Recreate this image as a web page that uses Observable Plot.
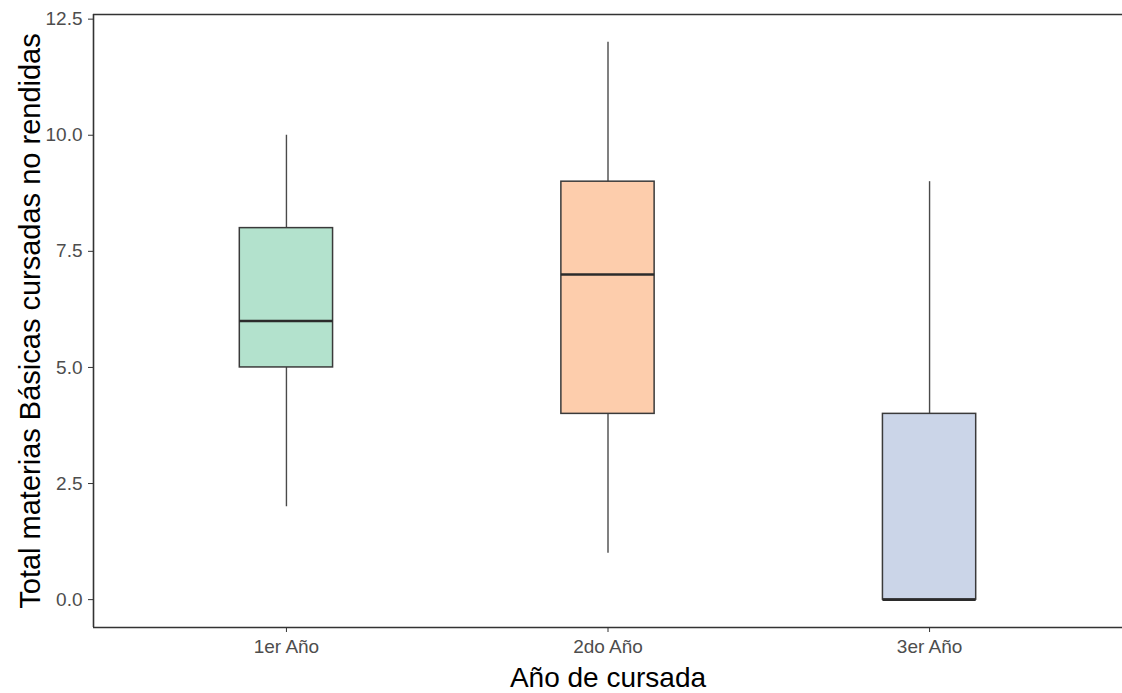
<!DOCTYPE html>
<html><head><meta charset="utf-8">
<script src="https://cdn.jsdelivr.net/npm/d3@7"></script>
<script src="https://cdn.jsdelivr.net/npm/@observablehq/plot@0.6"></script>
<style>
body{margin:0;background:#fff;}
svg{font-family:"Liberation Sans",Arial,sans-serif;}
</style></head>
<body><div id="chart"></div>
<script>
const categories = ["1er Año", "2do Año", "3er Año"];
const whiskerLow = [2, 1, 0];
const q1 = [5, 4, 0];
const median = [6, 7, 0];
const q3 = [8, 9, 4];
const whiskerHigh = [10, 12, 9];
const fills = ["#b3e2cd", "#fdcdac", "#cbd5e8"];
const yTicks = [0, 2.5, 5, 7.5, 10, 12.5];
const yTitle = "Total materias Básicas cursadas no rendidas";
const xTitle = "Año de cursada";

const boxW = 0.145;
const data = categories.map((c, i) => ({
  cat: c, pos: i + 1, lo: whiskerLow[i], q1: q1[i], med: median[i], q3: q3[i], hi: whiskerHigh[i], fill: fills[i]
}));

const plot = Plot.plot({
  width: 1122, height: 693,
  marginLeft: 93, marginRight: 0, marginTop: 14, marginBottom: 66,
  x: {type: "linear", domain: [0.4, 3.6], axis: null},
  y: {domain: [-0.6, 12.6], axis: null},
  marks: [
    Plot.ruleX(data, {x: "pos", y1: "lo", y2: "q1", stroke: "#4a4a4a", strokeWidth: 1.4}),
    Plot.ruleX(data, {x: "pos", y1: "q3", y2: "hi", stroke: "#4a4a4a", strokeWidth: 1.4}),
    Plot.rect(data, {x1: d => d.pos - boxW, x2: d => d.pos + boxW, y1: "q1", y2: "q3", fill: "fill", stroke: "#3a3a3a", strokeWidth: 1.5}),
    Plot.ruleY(data, {x1: d => d.pos - boxW, x2: d => d.pos + boxW, y: "med", stroke: "#2b2b2b", strokeWidth: 2.6}),
    Plot.axisY({ticks: yTicks, tickFormat: d => d.toFixed(1), label: null, tickSize: 5, tickPadding: 6, fontSize: 19, color: "#4d4d4d", stroke: "#333"}),
    Plot.axisX({ticks: [1, 2, 3], tickFormat: d => categories[d - 1], label: null, tickSize: 5, tickPadding: 7, fontSize: 19, color: "#4d4d4d", stroke: "#333"}),
    Plot.ruleX([0.4], {stroke: "#333", strokeWidth: 1.6}),
    Plot.ruleY([-0.6], {stroke: "#333", strokeWidth: 1.6}),
    Plot.ruleY([12.6], {stroke: "#333", strokeWidth: 1.6}),
    Plot.text([yTitle], {frameAnchor: "left", textAnchor: "middle", lineAnchor: "middle", rotate: -90, dx: -63, fontSize: 29, fill: "#000", text: d => d}),
    Plot.text([xTitle], {frameAnchor: "bottom", textAnchor: "middle", lineAnchor: "middle", dy: 51, fontSize: 28, fill: "#000", text: d => d})
  ]
});
document.getElementById("chart").append(plot);
</script></body></html>
